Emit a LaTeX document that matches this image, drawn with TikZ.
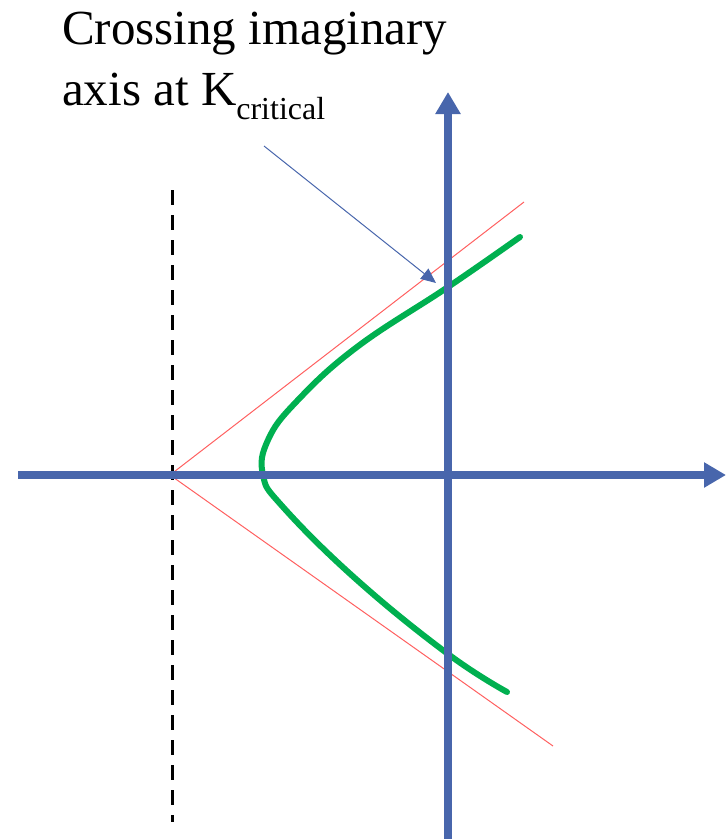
\documentclass[tikz,border=0pt]{standalone}
\usepackage{fontspec}
\setmainfont{Liberation Serif}
\usepackage{xcolor}
\usetikzlibrary{arrows.meta,positioning}

\definecolor{axisblue}{RGB}{72,102,172}
\definecolor{locusgreen}{RGB}{0,176,80}
\definecolor{asymred}{RGB}{255,96,96}

\begin{document}
\begin{tikzpicture}[
    x=1pt, y=-1pt,
    axis/.style={draw=axisblue, line width=8pt, -{Triangle[length=22pt,width=24pt]}},
    asym/.style={draw=asymred, line width=1pt},
    locus/.style={draw=locusgreen, line width=6pt, line cap=round},
    cutoff/.style={draw=black, line width=3pt, dash pattern=on 15pt off 10pt},
    note/.style={align=left, inner sep=0pt, font=\fontsize{49}{61}\selectfont},
    pointer/.style={draw=axisblue, line width=1pt, -{Triangle[length=15pt,width=13pt]}},
    ]
\useasboundingbox (0,0) rectangle (726,839);

% ---- axes ----
\coordinate (origin) at (448,475);
\coordinate (reL) at (18,475);
\coordinate (reR) at (726,475);
\coordinate (imB) at (448,839);
\coordinate (imT) at (448,92);

% ---- asymptote centroid and cutoff line ----
\coordinate (centroid) at (170,475);
\coordinate (dashT) at (172,190);
\coordinate (dashB) at (172,822);
\coordinate (asymU) at (524,202);
\coordinate (asymD) at (553,746);

\draw[cutoff] (dashT) -- (dashB);
\draw[asym] (centroid) -- (asymU);
\draw[asym] (centroid) -- (asymD);

% ---- root locus branch ----
\draw[locus] plot[smooth, tension=0.7] coordinates {
    (520,237) (448,287) (357,347) (297,401) (268,440) (263,475)
    (283,507) (357,580) (448,654) (507,692)};

\draw[axis] (reL) -- (reR);
\draw[axis] (imB) -- (imT);

% ---- annotation ----
\node[note, anchor=north west] (crossing) at (62,12)
    {Crossing imaginary\\axis at K\raisebox{-14pt}{\fontsize{32}{32}\selectfont critical}};
\coordinate (ptrstart) at (264,146);
\coordinate (kcrit) at (436,283);
\draw[pointer] (ptrstart) -- (kcrit);
\end{tikzpicture}
\end{document}
